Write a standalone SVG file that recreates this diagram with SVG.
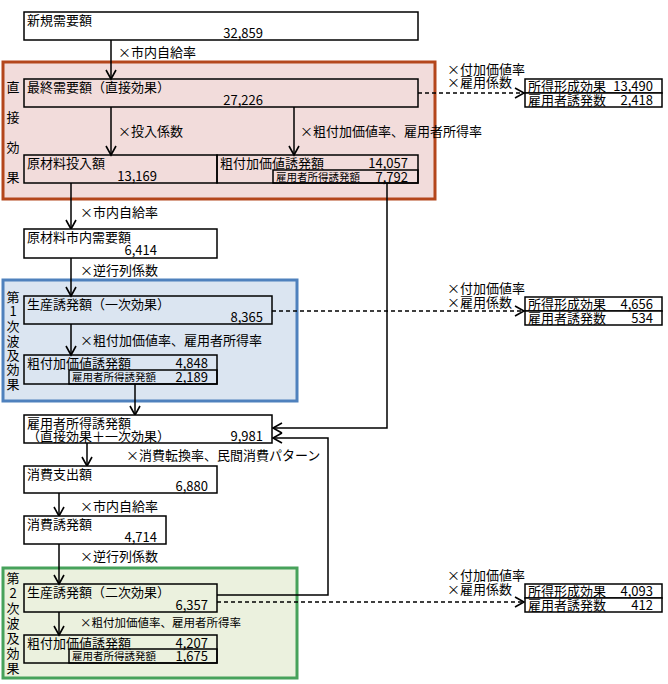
<svg xmlns="http://www.w3.org/2000/svg" width="668" height="684" viewBox="0 0 668 684">
<defs>
<style>
text{font-family:"Noto Sans CJK JP","Noto Sans CJK SC",sans-serif;font-size:13px;fill:#000}
.s{font-size:10.5px}
.m{font-size:11.5px}
.e{text-anchor:end}
.c{text-anchor:middle}
.box{fill:none;stroke:#000;stroke-width:1.5}
.wbox{fill:#fff;stroke:#000;stroke-width:1.5}
.ln{fill:none;stroke:#000;stroke-width:1.5}
.ar{marker-end:url(#ah)}
.dash{fill:none;stroke:#000;stroke-width:1.5;stroke-dasharray:4 3}
</style>
<marker id="ah" markerUnits="userSpaceOnUse" markerWidth="14" markerHeight="14" viewBox="-12 -7 14 14" refX="0" refY="0" orient="auto">
<path d="M-9,-5 L0,0 L-9,5" fill="none" stroke="#000" stroke-width="1.6" stroke-dasharray="none"/>
</marker>
</defs>
<rect width="668" height="684" fill="#fff"/>

<g id="direct-effect-area">
<rect x="3" y="62" width="432" height="137" fill="#f2dcdb" stroke="#b4461c" stroke-width="3"/>
<text x="13" y="92" class="c">直</text>
<text x="13" y="122" class="c">接</text>
<text x="13" y="152" class="c">効</text>
<text x="13" y="182" class="c">果</text>
</g>
<g id="first-ripple-area">
<rect x="3" y="280" width="294" height="121" fill="#dbe5f1" stroke="#4f81bd" stroke-width="3"/>
<text x="13" y="302" class="c">第</text>
<text x="13" y="316" class="c">1</text>
<text x="13" y="331" class="c">次</text>
<text x="13" y="346" class="c">波</text>
<text x="13" y="360" class="c">及</text>
<text x="13" y="374" class="c">効</text>
<text x="13" y="389" class="c">果</text>
</g>
<g id="second-ripple-area">
<rect x="3" y="568" width="294" height="110" fill="#ebf1de" stroke="#47a25b" stroke-width="3"/>
<text x="13" y="583" class="c">第</text>
<text x="13" y="598" class="c">2</text>
<text x="13" y="613" class="c">次</text>
<text x="13" y="628" class="c">波</text>
<text x="13" y="643" class="c">及</text>
<text x="13" y="658" class="c">効</text>
<text x="13" y="673" class="c">果</text>
</g>

<g id="connectors">
<line x1="111" y1="40" x2="111" y2="79" class="ln ar"/>
<line x1="111" y1="107" x2="111" y2="155" class="ln ar"/>
<line x1="294" y1="107" x2="294" y2="155" class="ln ar"/>
<line x1="71" y1="183" x2="71" y2="229" class="ln ar"/>
<line x1="71" y1="258" x2="71" y2="296" class="ln ar"/>
<line x1="71" y1="324" x2="71" y2="355" class="ln ar"/>
<line x1="135" y1="384" x2="135" y2="415" class="ln ar"/>
<line x1="87" y1="443" x2="87" y2="466" class="ln ar"/>
<line x1="59" y1="493" x2="59" y2="516" class="ln ar"/>
<line x1="59" y1="544" x2="59" y2="584" class="ln ar"/>
<line x1="59" y1="612" x2="59" y2="635" class="ln ar"/>
<polyline points="387,183 387,428 273,428" class="ln ar"/>
<polyline points="217,595 328,595 328,438 273,438" class="ln ar"/>
<line x1="418" y1="93" x2="524" y2="93" class="dash ar"/>
<line x1="272" y1="311" x2="524" y2="311" class="dash ar"/>
<line x1="217" y1="602" x2="524" y2="602" class="dash ar"/>
<text x="118" y="57">×市内自給率</text>
<text x="118" y="136">×投入係数</text>
<text x="300" y="136">×粗付加価値率、雇用者所得率</text>
<text x="80" y="217">×市内自給率</text>
<text x="80" y="275">×逆行列係数</text>
<text x="80" y="345">×粗付加価値率、雇用者所得率</text>
<text x="126" y="460">×消費転換率、民間消費パターン</text>
<text x="80" y="511">×市内自給率</text>
<text x="80" y="561">×逆行列係数</text>
<text x="80" y="627" class="m">×粗付加価値率、雇用者所得率</text>
<text x="447" y="74">×付加価値率</text>
<text x="447" y="87">×雇用係数</text>
<text x="447" y="293">×付加価値率</text>
<text x="447" y="307">×雇用係数</text>
<text x="447" y="580">×付加価値率</text>
<text x="447" y="594">×雇用係数</text>
</g>

<g id="new-demand">
<rect x="24" y="12" width="394" height="28" class="wbox"/>
<text x="27" y="25">新規需要額</text>
<text x="263" y="38" class="e">32,859</text>
</g>
<g id="final-demand">
<rect x="24" y="79" width="394" height="28" class="box"/>
<text x="27" y="92">最終需要額（直接効果）</text>
<text x="263" y="105" class="e">27,226</text>
</g>
<g id="raw-material-input">
<rect x="24" y="155" width="193" height="28" class="box"/>
<text x="27" y="168">原材料投入額</text>
<text x="157" y="181" class="e">13,169</text>
</g>
<g id="gva-direct">
<rect x="217" y="155" width="201" height="28" class="box"/>
<text x="220" y="168">粗付加価値誘発額</text>
<text x="408" y="168" class="e">14,057</text>
<rect x="273" y="170" width="145" height="13" class="box"/>
<text x="276" y="181" class="s">雇用者所得誘発額</text>
<text x="408" y="182" class="e">7,792</text>
</g>
<g id="raw-material-local">
<rect x="24" y="229" width="193" height="29" class="wbox"/>
<text x="27" y="242">原材料市内需要額</text>
<text x="157" y="255" class="e">6,414</text>
</g>
<g id="production-first">
<rect x="24" y="296" width="248" height="28" class="box"/>
<text x="27" y="309">生産誘発額（一次効果）</text>
<text x="263" y="322" class="e">8,365</text>
</g>
<g id="gva-first">
<rect x="24" y="355" width="193" height="29" class="box"/>
<text x="27" y="368">粗付加価値誘発額</text>
<text x="208" y="368" class="e">4,848</text>
<rect x="69" y="370" width="148" height="14" class="box"/>
<text x="72" y="381" class="s">雇用者所得誘発額</text>
<text x="208" y="382" class="e">2,189</text>
</g>
<g id="employee-income">
<rect x="24" y="415" width="248" height="28" class="wbox"/>
<text x="27" y="428">雇用者所得誘発額</text>
<text x="27" y="441">（直接効果＋一次効果）</text>
<text x="263" y="441" class="e">9,981</text>
</g>
<g id="consumption-spending">
<rect x="24" y="466" width="193" height="27" class="wbox"/>
<text x="27" y="479">消費支出額</text>
<text x="208" y="491" class="e">6,880</text>
</g>
<g id="consumption-induced">
<rect x="24" y="516" width="142" height="28" class="wbox"/>
<text x="27" y="529">消費誘発額</text>
<text x="157" y="542" class="e">4,714</text>
</g>
<g id="production-second">
<rect x="24" y="584" width="193" height="28" class="box"/>
<text x="27" y="597">生産誘発額（二次効果）</text>
<text x="208" y="610" class="e">6,357</text>
</g>
<g id="gva-second">
<rect x="24" y="635" width="193" height="28" class="box"/>
<text x="27" y="648">粗付加価値誘発額</text>
<text x="208" y="648" class="e">4,207</text>
<rect x="69" y="649" width="148" height="14" class="box"/>
<text x="72" y="660" class="s">雇用者所得誘発額</text>
<text x="208" y="661" class="e">1,675</text>
</g>

<g id="result-direct">
<rect x="525" y="79" width="137" height="14" class="wbox"/>
<rect x="525" y="93" width="137" height="14" class="wbox"/>
<text x="528" y="91">所得形成効果</text>
<text x="653" y="91" class="e">13,490</text>
<text x="528" y="105">雇用者誘発数</text>
<text x="653" y="105" class="e">2,418</text>
</g>
<g id="result-first">
<rect x="525" y="297" width="137" height="14" class="wbox"/>
<rect x="525" y="311" width="137" height="14" class="wbox"/>
<text x="528" y="309">所得形成効果</text>
<text x="653" y="309" class="e">4,656</text>
<text x="528" y="323">雇用者誘発数</text>
<text x="653" y="323" class="e">534</text>
</g>
<g id="result-second">
<rect x="525" y="584" width="137" height="14" class="wbox"/>
<rect x="525" y="598" width="137" height="14" class="wbox"/>
<text x="528" y="596">所得形成効果</text>
<text x="653" y="596" class="e">4,093</text>
<text x="528" y="610">雇用者誘発数</text>
<text x="653" y="610" class="e">412</text>
</g>
</svg>
